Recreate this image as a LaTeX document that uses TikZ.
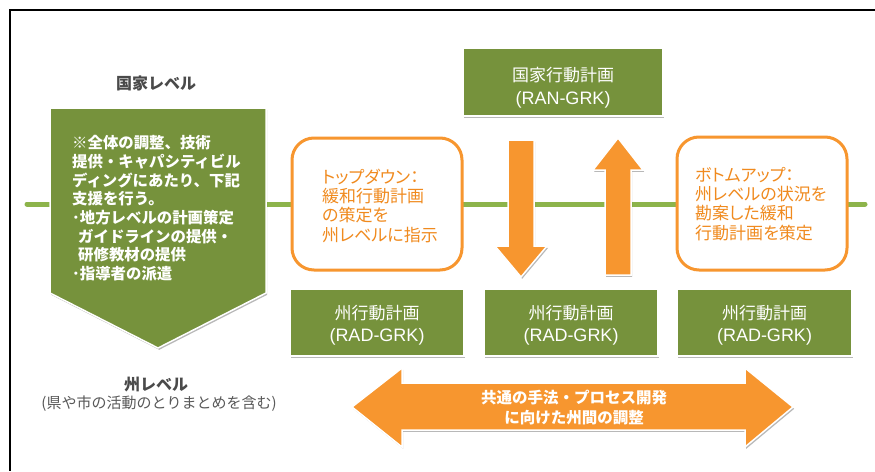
\documentclass[tikz,border=0pt]{standalone}
\usepackage{fontspec}
\setmainfont{Noto Sans CJK JP}
\newfontfamily\jpp{Noto Sans CJK JP}[RawFeature=+palt]
\newfontfamily\lat{Liberation Sans}
\usetikzlibrary{shadows}
\definecolor{olivebox}{HTML}{76923C}
\definecolor{lgreen}{HTML}{8DB44B}
\definecolor{orng}{HTML}{F7962F}
\definecolor{otext}{HTML}{F08A1E}
\definecolor{gtext}{HTML}{4A4A4A}
\definecolor{gtext2}{HTML}{595959}
\tikzset{
  shd/.style={drop shadow={shadow xshift=1.2pt, shadow yshift=-1.8pt, opacity=0.28, fill=black}},
  gbox/.style={shd, fill=olivebox, draw=white, line width=1.5pt, inner sep=0pt,
    minimum width=#1},
  gl1txt/.style={text=white, font=\fontsize{17}{20}\selectfont, inner sep=0pt, anchor=base},
  gl2txt/.style={text=white, font=\lat\fontsize{18}{20}\selectfont, inner sep=0pt, anchor=base},
  obox/.style={draw=orng, fill=white, line width=3pt, rounded corners=22pt, inner sep=0pt,
    minimum width=170pt},
  ptext/.style={text=white, font=\bfseries\fontsize{15.4}{18}\selectfont, inner sep=0pt, anchor=base west},
  otxt/.style={text=otext, font=\jpp\fontsize{17}{20}\selectfont, inner sep=0pt, anchor=base west},
  arr/.style={shd, fill=orng, draw=white, line width=1.5pt, line join=miter},
  lvl/.style={text=gtext, font=\bfseries\fontsize{16}{18}\selectfont, inner sep=0pt, anchor=base},
  datxt/.style={text=white, font=\bfseries\fontsize{15.5}{18}\selectfont, inner sep=0pt, anchor=base},
}
\begin{document}
\begin{tikzpicture}[x=1pt, y=-1pt]
\useasboundingbox (0,0) rectangle (875,471);
\fill[white] (0,0) rectangle (875,471);
% frame
\draw[line width=2pt] (875,10) -- (10,10) -- (10,471);
% green level line
\coordinate (gl1) at (27,204);
\coordinate (gl2) at (865,204);
\draw[lgreen, line width=5pt, line cap=round] (gl1) -- (gl2);

% left pentagon
\path[shd, fill=olivebox, draw=white, line width=1.5pt]
  (50,108) -- (266,108) -- (266,293) -- (158,348) -- (50,293) -- cycle;
\node[ptext] (p1) at (72,148.7) {※全体の調整、技術};
\node[ptext] (p2) at (72,167.4) {提供・キャパシティビル};
\node[ptext] (p3) at (72,186.1) {ディングにあたり、下記};
\node[ptext] (p4) at (72,204.8) {支援を行う。};
\node[ptext] (p5) at (72,223.5) {･地方レベルの計画策定};
\node[ptext] (p6) at (78,242.2) {ガイドラインの提供・};
\node[ptext] (p7) at (78,260.9) {研修教材の提供};
\node[ptext] (p8) at (72,279.6) {･指導者の派遣};

\node[lvl] (kokka) at (156,89) {国家レベル};
\node[lvl] (shu) at (156,390) {州レベル};
\node[text=gtext2, font=\fontsize{15}{18}\selectfont, inner sep=0pt, anchor=base] (shusub) at (159,408.5) {(県や市の活動のとりまとめを含む)};

% top box
\node[gbox=200pt, minimum height=68pt] (ran) at (563,82) {};
\node[gl1txt] (ran1) at (563,81.3) {国家行動計画};
\node[gl2txt] (ran2) at (563,104.5) {(RAN-GRK)};

% rounded boxes
\node[obox, minimum height=132pt] (td) at (377,204) {};
\node[otxt] (td1) at (322,183.3) {トップダウン：};
\node[otxt] (td2) at (322,202.6) {緩和行動計画};
\node[otxt] (td3) at (322,221.9) {の策定を};
\node[otxt] (td4) at (322,241.3) {州レベルに指示};

\node[obox, minimum height=133pt] (bu) at (762,203.5) {};
\node[otxt] (bu1) at (695,181.3) {ボトムアップ：};
\node[otxt] (bu2) at (695,200.6) {州レベルの状況を};
\node[otxt] (bu3) at (695,219.9) {勘案した緩和};
\node[otxt] (bu4) at (695,239.3) {行動計画を策定};

% vertical arrows
\path[arr] (508,140) -- (534,140) -- (534,246) -- (547,246) -- (521,277) -- (495,246) -- (508,246) -- cycle;
\path[arr] (605,275) -- (631,275) -- (631,170) -- (643,170) -- (618,138) -- (593,170) -- (605,170) -- cycle;

% bottom boxes
\node[gbox=174pt, minimum height=67pt] (s1) at (377,322.5) {};
\node[gl1txt] (s1a) at (377,319.3) {州行動計画};
\node[gl2txt] (s1b) at (377,341.5) {(RAD-GRK)};
\node[gbox=174pt, minimum height=67pt] (s2) at (571,322.5) {};
\node[gl1txt] (s2a) at (571,319.3) {州行動計画};
\node[gl2txt] (s2b) at (571,341.5) {(RAD-GRK)};
\node[gbox=175pt, minimum height=67pt] (s3) at (764.5,322.5) {};
\node[gl1txt] (s3a) at (764.5,319.3) {州行動計画};
\node[gl2txt] (s3b) at (764.5,341.5) {(RAD-GRK)};

% double arrow
\path[arr] (352,407) -- (402,368) -- (402,383) -- (745,383) -- (745,368) -- (793,407)
  -- (745,447) -- (745,430) -- (402,430) -- (402,447) -- cycle;
\node[datxt] (da1) at (574,403.7) {共通の手法・プロセス開発};
\node[datxt] (da2) at (574,423.7) {に向けた州間の調整};
\end{tikzpicture}
\end{document}
